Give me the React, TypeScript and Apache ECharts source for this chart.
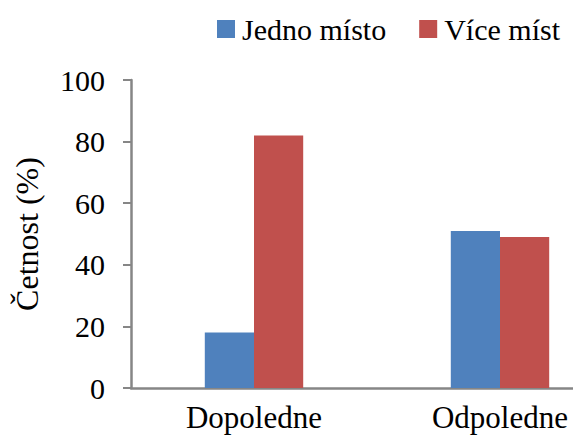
import React, { useEffect, useRef } from "react";
import * as echarts from "echarts";

const categories = ["Dopoledne", "Odpoledne"];
const seriesNames = ["Jedno místo", "Více míst"];
const jednoMisto = [18, 51];
const viceMist = [82, 49];
const colors = ["#4F81BD", "#C0504D"];

const FONT = "Liberation Serif";

export default function App() {
  const ref = useRef<HTMLDivElement>(null);
  useEffect(() => {
    document.body.style.margin = "0";
    const chart = echarts.init(ref.current!, null, { renderer: "svg" });
    chart.setOption({
      animation: false,
      backgroundColor: "#ffffff",
      legend: {
        top: 9,
        right: 8,
        itemWidth: 18,
        itemHeight: 18,
        itemGap: 33,
        icon: "rect",
        textStyle: { fontFamily: FONT, fontSize: 30, color: "#000", padding: [0, 0, 0, 2] },
        data: seriesNames,
      },
      grid: { left: 131, top: 80, right: -50, bottom: 49, containLabel: false, outerBoundsMode: "none" },
      xAxis: {
        type: "category",
        data: categories,
        axisLine: { lineStyle: { color: "#868686", width: 2.5 } },
        axisTick: { show: false },
        axisLabel: { fontFamily: FONT, fontSize: 31, lineHeight: 31, color: "#000", margin: 14 },
      },
      yAxis: {
        type: "value",
        min: 0,
        max: 100,
        interval: 20,
        name: "Četnost (%)",
        nameLocation: "middle",
        nameGap: 88,
        nameRotate: 90,
        nameTextStyle: { fontFamily: FONT, fontSize: 32, color: "#000" },
        axisLine: { show: true, lineStyle: { color: "#868686", width: 2.5 } },
        axisTick: { show: true, length: 8, lineStyle: { color: "#868686", width: 2 } },
        splitLine: { show: false },
        axisLabel: { fontFamily: FONT, fontSize: 30, color: "#000", margin: 26 },
      },
      series: [
        {
          name: seriesNames[0],
          type: "bar",
          data: jednoMisto,
          itemStyle: { color: colors[0] },
          barGap: "0%",
          barCategoryGap: "60%",
        },
        {
          name: seriesNames[1],
          type: "bar",
          data: viceMist,
          itemStyle: { color: colors[1] },
          barGap: "0%",
          barCategoryGap: "60%",
        },
      ],
    });
    return () => chart.dispose();
  }, []);
  return <div ref={ref} style={{ width: 573, height: 437 }} />;
}
